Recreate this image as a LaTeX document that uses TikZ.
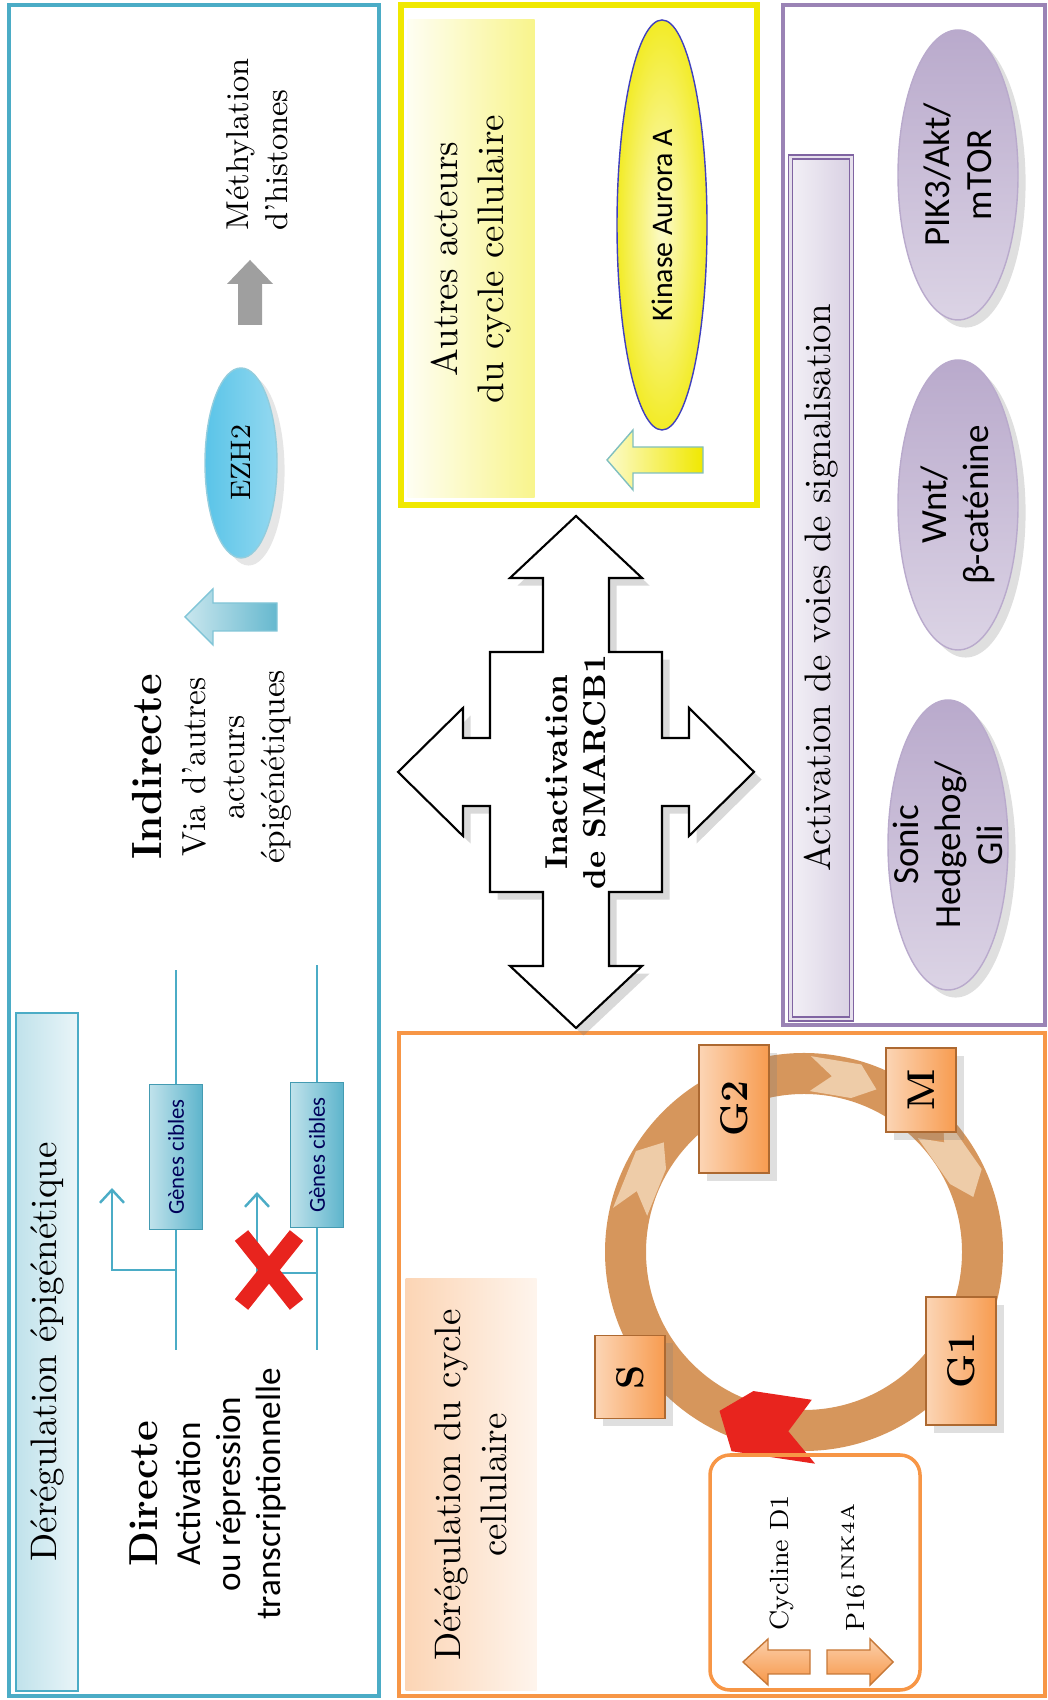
\documentclass[tikz,border=0pt]{standalone}
\usepackage{fontspec}
\newfontfamily\condfont{Carlito}
\usetikzlibrary{shapes.geometric,shapes.misc,arrows.meta,shadows}
\definecolor{aqua}{HTML}{4BACC6}
\definecolor{skyb}{RGB}{90,196,232}
\definecolor{tang}{HTML}{F79646}
\definecolor{lavd}{HTML}{8064A2}
\definecolor{lemon}{RGB}{240,232,0}
\definecolor{ringbrown}{RGB}{214,150,92}
\definecolor{ringlight}{RGB}{238,204,168}
\definecolor{crossred}{RGB}{232,36,30}
\begin{document}
\begin{tikzpicture}[x=0.1mm,y=0.1mm,
	banner/.style={inner sep=0pt, align=center, font=\fontsize{10.5}{13}\selectfont},
	gene/.style={draw=aqua!90!black, left color=aqua!35, right color=aqua!90, minimum width=14.5mm, minimum height=5.3mm, inner sep=0pt, font=\condfont\fontsize{6.5}{7}\selectfont\color{blue!35!black}},
	pathway/.style={ellipse, draw=lavd!55, top color=lavd!55, bottom color=lavd!28, minimum width=29mm, minimum height=12mm, drop shadow={opacity=0.25}, label={[align=center, font=\condfont\fontsize{10.5}{12}\selectfont]center:#1}},
	phase/.style={draw=tang!70!black, left color=tang!40, right color=tang!95, minimum height=7mm, inner sep=0pt, font=\bfseries\fontsize{11}{13}\selectfont, drop shadow={opacity=0.25}},
	promoter/.style={aqua, line width=0.7pt, -{Straight Barb[length=1.3mm,width=2.4mm]}}
]
\useasboundingbox (0,0) rectangle (1047,1700);
\begin{scope}[rotate=90, transform shape]
	%Epigenetic panel
	\draw[aqua, line width=1.1pt] (4,-9) rectangle (1695,-379);
	\node[banner, draw=aqua, left color=aqua!35, right color=aqua!12, minimum width=67.8mm, minimum height=6.2mm] (epititle) at (348,-47) {Dérégulation épigénétique};
	\node[align=center, font=\condfont\fontsize{10}{11.3}\selectfont] (directe) at (206,-208) {{\rmfamily\bfseries\fontsize{11.5}{13}\selectfont Directe}\\[1pt]Activation\\ou répression\\transcriptionnelle};
	%Genes
	\coordinate (g1a) at (350,-176);
	\coordinate (g1b) at (730,-176);
	\draw[aqua, line width=0.7pt] (g1a) -- (g1b);
	\node[gene] (gene1) at (543,-176) {Gènes cibles};
	\coordinate (p1) at (430,-176);
	\coordinate (t1) at (512,-112);
	\draw[promoter] (p1) |- (t1);
	\coordinate (g2a) at (350,-317);
	\coordinate (g2b) at (735,-317);
	\draw[aqua, line width=0.7pt] (g2a) -- (g2b);
	\node[gene] (gene2) at (545,-317) {Gènes cibles};
	\coordinate (p2) at (427,-317);
	\coordinate (t2) at (508,-257);
	\draw[promoter] (p2) |- (t2);
	\node[cross out, draw=crossred, line width=1.7mm, minimum width=5.2mm, minimum height=3.8mm, inner sep=0pt] (block) at (430,-269) {};
	%Indirect way
	\node[align=center, font=\fontsize{9.5}{11.3}\selectfont] (indirecte) at (933,-212) {{\bfseries\fontsize{12}{14}\selectfont Indirecte}\\[1pt]Via d'autres\\acteurs\\épigénétiques};
	\draw[draw=aqua!70, left color=aqua!30, right color=aqua!85] (1069,-277) -- (1069,-213) -- (1055,-213) -- (1083,-185) -- (1111,-213) -- (1097,-213) -- (1097,-277) -- cycle;
	\node[ellipse, draw=aqua!60, left color=skyb, right color=skyb!65, minimum width=19mm, minimum height=7.2mm, inner sep=0pt, font=\fontsize{8}{10}\selectfont, drop shadow={opacity=0.2}] (ezh2) at (1237,-241) {EZH2};
	\fill[gray!75] (1375,-238) -- (1416,-238) -- (1416,-227) -- (1440,-250) -- (1416,-273) -- (1416,-262) -- (1375,-262) -- cycle;
	\node[anchor=west, align=left, font=\fontsize{9}{11}\selectfont] (methyl) at (1457,-257) {Méthylation\\d'histones};

	%Cell cycle actors
	\draw[lemon, line width=1.5pt] (1195,-401) rectangle (1695,-757);
	\node[banner, left color=lemon!5, right color=lemon!45, minimum width=47.8mm, minimum height=12.7mm] (autres) at (1441,-471) {Autres acteurs\\du cycle cellulaire};
	\node[ellipse, draw=blue!50!gray, line width=0.4pt, inner color=lemon!20, outer color=lemon!85, minimum width=41mm, minimum height=9mm, inner sep=0pt, font=\condfont\fontsize{8.5}{10}\selectfont] (aurora) at (1475,-662) {Kinase Aurora A};
	\draw[draw=teal!50, left color=lemon!20, right color=lemon] (1227,-703) -- (1227,-633) -- (1210,-633) -- (1240,-607) -- (1270,-633) -- (1253,-633) -- (1253,-703) -- cycle;

	%Signalling pathways
	\draw[lavd!80, line width=1.2pt] (675,-783) rectangle (1695,-1045);
	\node[banner, draw=lavd, double=lavd!20, double distance=0.8pt, left color=lavd!10, right color=lavd!30, minimum width=86.2mm, minimum height=6.1mm] (voies) at (1112,-821) {Activation de voies de signalisation};
	\node[pathway={PIK3/Akt/\\mTOR}] (pik) at (1525,-958) {};
	\node[pathway={Wnt/\\β-caténine}] (wnt) at (1195,-958) {};
	\node[pathway={Sonic\\Hedgehog/\\Gli}] (shh) at (855,-948) {};

	%Cell cycle
	\draw[tang, line width=1.2pt] (4,-399) rectangle (667,-1045);
	\node[banner, left color=tang!40, right color=tang!10, minimum width=41.2mm, minimum height=13.1mm] (cycletitle) at (215,-471) {Dérégulation du cycle\\cellulaire};
	\coordinate (ring) at (448,-804);
	\draw[ringbrown, line width=4.1mm] (ring) circle (178.5);
	\begin{scope}[shift={(448,-804)}]
		\fill[ringlight] (77:196) -- (59:196) -- (52:178) -- (59:161) -- (77:161) -- (70:178) -- cycle;
		\fill[ringlight] (-2:196) -- (-17:196) -- (-24:178) -- (-17:161) -- (-2:161) -- (-9:178) -- cycle;
		\fill[ringlight] (-45:196) -- (-65:196) -- (-72:178) -- (-65:161) -- (-45:161) -- (-52:178) -- cycle;
		\fill[crossred] (183:212) -- (160:212) -- (152:180) -- (160:148) -- (183:148) -- (175:180) -- cycle;
	\end{scope}
	\node[phase, minimum width=12.8mm] (g2) at (591,-734) {G2};
	\node[phase, minimum width=8.4mm] (m) at (610,-921) {M};
	\node[phase, minimum width=12.8mm] (g1) at (339,-961) {G1};
	\node[phase, minimum width=8.3mm] (s) at (323,-630) {S};
	%Cyclin box
	\node[draw=tang, line width=1pt, rounded corners=2mm, minimum width=23.5mm, minimum height=21mm] (cyclin) at (127.5,-815) {};
	\node[font=\fontsize{7.5}{9}\selectfont] (cyclinD) at (137,-782) {Cycline D1};
	\node[font=\fontsize{7.5}{9}\selectfont] (p16) at (133,-853) {P16\,\textsuperscript{INK4A}};
	\draw[draw=tang!80!black, top color=tang!45, bottom color=tang] (26,-810) -- (26,-768) -- (15,-768) -- (38,-743) -- (61,-768) -- (50,-768) -- (50,-810) -- cycle;
	\draw[draw=tang!80!black, top color=tang!45, bottom color=tang] (26,-827) -- (26,-870) -- (15,-870) -- (38,-893) -- (61,-870) -- (50,-870) -- (50,-827) -- cycle;

	%SMARCB1 cross arrow
	\begin{scope}[shift={(928,-576)}]
		\draw[fill=white, line width=0.6pt, drop shadow={opacity=0.3}] (256,0) -- (194,66) -- (194,33) -- (120,33) -- (120,86) -- (34,86) -- (34,113) -- (64,113) -- (0,178) -- (-64,113) -- (-34,113) -- (-34,86) -- (-120,86) -- (-120,33) -- (-194,33) -- (-194,66) -- (-256,0) -- (-194,-66) -- (-194,-33) -- (-120,-33) -- (-120,-86) -- (-34,-86) -- (-34,-113) -- (-64,-113) -- (0,-178) -- (64,-113) -- (34,-113) -- (34,-86) -- (120,-86) -- (120,-33) -- (194,-33) -- (194,-66) -- cycle;
		\node[align=center, font=\bfseries\fontsize{9}{10.8}\selectfont] (smarcb) at (0,0) {Inactivation\\de SMARCB1};
	\end{scope}
\end{scope}
\end{tikzpicture}
\end{document}
